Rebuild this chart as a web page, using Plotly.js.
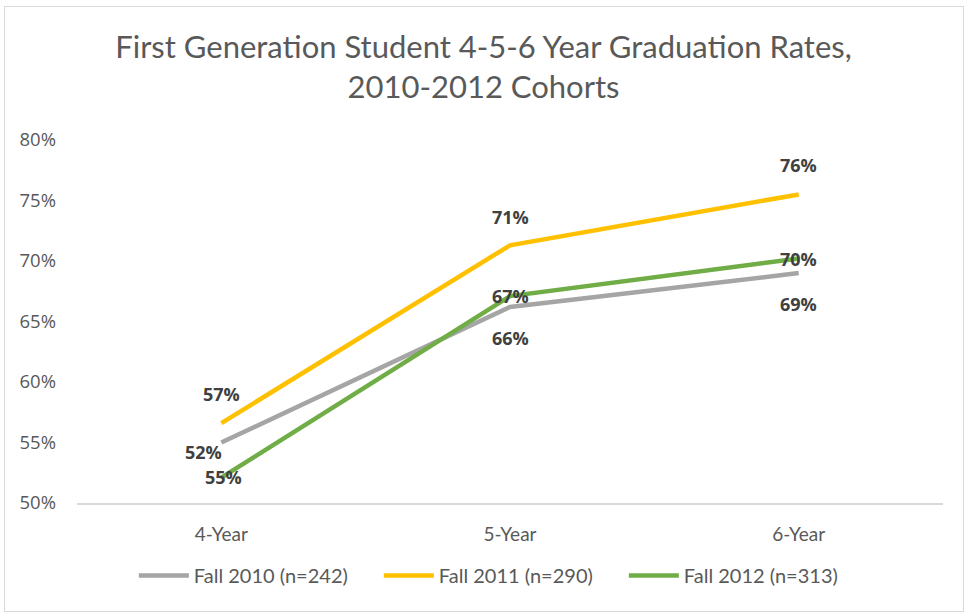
<!DOCTYPE html>
<html>
<head>
<meta charset="utf-8">
<script src="https://cdn.plot.ly/plotly-3.0.1.min.js"></script>
<style>
  html, body { margin: 0; padding: 0; background: #fff; }
  #wrap { position: relative; width: 967px; height: 616px; }
  #chart { width: 967px; height: 616px; }
  #frame { position: absolute; left: 4px; top: 6px; width: 958px; height: 604px; border: 1px solid #d9d9d9; pointer-events: none; }
</style>
</head>
<body>
<div id="wrap"><div id="chart"></div><div id="frame"></div></div>
<script>
// ---- data ----
const categories = ['4-Year', '5-Year', '6-Year'];
const seriesNames = ['Fall 2010 (n=242)', 'Fall 2011 (n=290)', 'Fall 2012 (n=313)'];
const fall2010 = [55.0, 66.2, 69.0];
const fall2011 = [56.6, 71.3, 75.5];
const fall2012 = [52.1, 67.1, 70.2];
const yTickVals = [50, 55, 60, 65, 70, 75, 80];
const yTickText = ['50%', '55%', '60%', '65%', '70%', '75%', '80%'];

// ---- styles ----
const colors = ['#A5A5A5', '#FFC000', '#70AD47'];
const allSeries = [fall2010, fall2011, fall2012];
const narrowFont = 'Lato, sans-serif';
// label offsets (pixels) per series, per point
const labelShiftX = [[2, 0, 0], [0, 0, 0], [-18, 0, 0]];
const labelShiftY = [[-34, -31, -31], [29, 28, 29], [26, 0, 0]];

const traces = allSeries.map((vals, i) => ({
  x: categories,
  y: vals,
  type: 'scatter',
  mode: 'lines',
  name: seriesNames[i],
  line: { color: colors[i], width: 4.5 },
  hoverinfo: 'none'
}));

const annotations = [];
allSeries.forEach((vals, i) => {
  vals.forEach((v, j) => {
    annotations.push({
      x: categories[j], y: v, xref: 'x', yref: 'y',
      text: Math.round(v) + '%',
      showarrow: false,
      xshift: labelShiftX[i][j], yshift: labelShiftY[i][j],
      font: { family: 'Open Sans, sans-serif', size: 18, color: '#404040', weight: 'bold' }
    });
  });
});

const layout = {
  width: 967, height: 616,
  margin: { l: 77, r: 24, t: 140, b: 113 },
  paper_bgcolor: '#ffffff', plot_bgcolor: '#ffffff',
  title: {
    text: 'First Generation Student 4-5-6 Year Graduation Rates,<br>2010-2012 Cohorts',
    font: { family: narrowFont, size: 31, color: '#595959' },
    x: 0.5, xanchor: 'center', y: 0.906, yanchor: 'middle'
  },
  xaxis: {
    type: 'category',
    showgrid: false, zeroline: false,
    showline: true, linecolor: '#d9d9d9', linewidth: 1.5,
    ticks: '', ticklen: 0, ticklabelstandoff: 14,
    tickfont: { family: narrowFont, size: 19, color: '#595959' },
    range: [-0.5, 2.5]
  },
  yaxis: {
    range: [50, 80],
    tickvals: yTickVals, ticktext: yTickText,
    showgrid: false, zeroline: false, showline: false,
    ticks: '', ticklabelstandoff: 20,
    tickfont: { family: 'Open Sans, sans-serif', size: 18.5, color: '#595959' }
  },
  showlegend: true,
  legend: {
    orientation: 'h', x: 0.49, xanchor: 'center', y: -0.2, yanchor: 'middle',
    font: { family: narrowFont, size: 20, color: '#595959' },
    itemwidth: 50, traceorder: 'normal',
    entrywidth: 180, entrywidthmode: 'pixels'
  },
  annotations: annotations
};

Plotly.newPlot('chart', traces, layout, { staticPlot: true, displayModeBar: false });
</script>
</body>
</html>
